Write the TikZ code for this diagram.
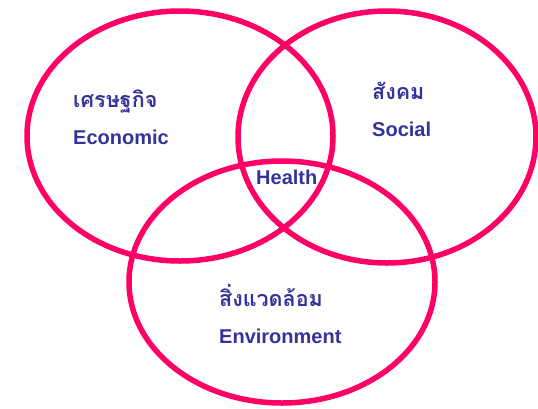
\documentclass[tikz,border=0pt]{standalone}
\usepackage{fontspec}
\setmainfont{Liberation Sans}
\newfontfamily\thaifont[Script=Thai]{Loma}
\definecolor{ring}{RGB}{255,0,102}
\definecolor{txt}{RGB}{51,51,153}
\begin{document}
\begin{tikzpicture}[x=1pt,y=-1pt,
  ring/.style={draw=ring,line width=5.5pt},
  en/.style={anchor=base west,inner sep=0pt,text=txt,font=\fontsize{20}{22}\selectfont\bfseries},
  th/.style={anchor=base west,inner sep=0pt,text=txt,font=\fontsize{21.5}{24}\selectfont\thaifont\bfseries}]
\useasboundingbox (0,0) rectangle (538,408);
\draw[ring] (180,136) ellipse [x radius=153, y radius=125];
\draw[ring] (387,137) ellipse [x radius=149, y radius=126];
\draw[ring] (282,282) ellipse [x radius=153, y radius=121];
\node[th] (ecoth) at (73,107) {เศรษฐกิจ};
\node[en] (eco) at (73,144) {Economic};
\node[th] (socth) at (372,99) {สังคม};
\node[en] (soc) at (372,136) {Social};
\node[en] (health) at (256,184) {Health};
\node[th] (envth) at (219,306) {สิ่งแวดล้อม};
\node[en] (env) at (219,343) {Environment};
\end{tikzpicture}
\end{document}
